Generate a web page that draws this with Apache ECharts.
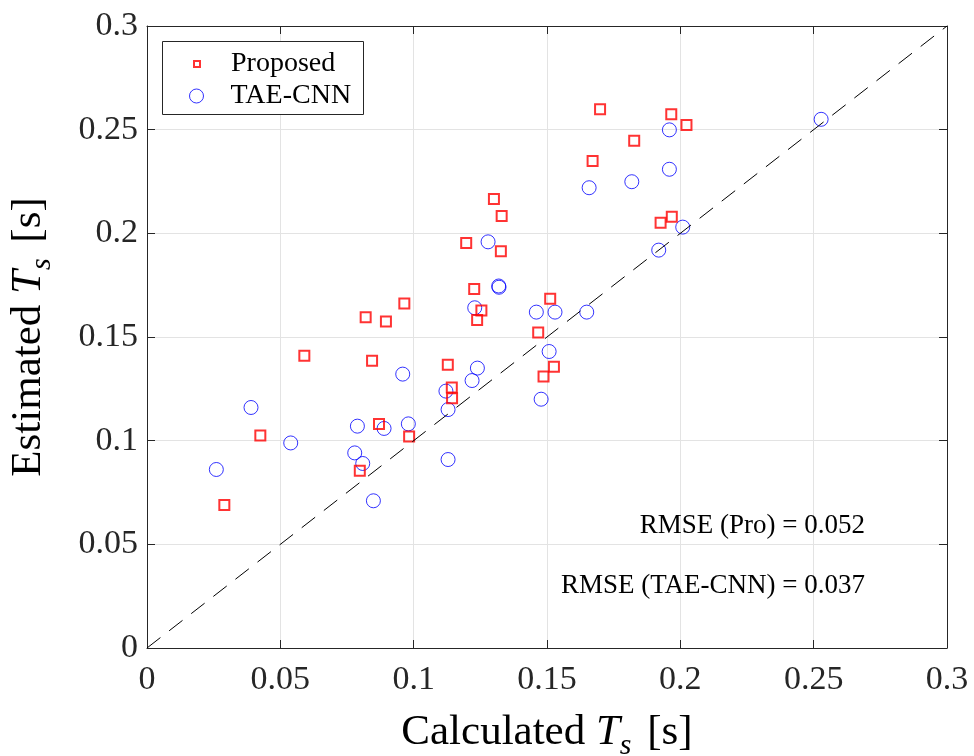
<!DOCTYPE html>
<html>
<head>
<meta charset="utf-8">
<script src="https://cdn.jsdelivr.net/npm/echarts@6/dist/echarts.min.js"></script>
<style>
  html, body { margin: 0; padding: 0; background: #ffffff; }
  #chart { width: 974px; height: 756px; }
</style>
</head>
<body>
<div id="chart"></div>
<script>
// Settling time: calculated vs. estimated, two estimators
const proposedCalc = [0.029, 0.0425, 0.059, 0.082, 0.0844, 0.0896, 0.0965, 0.087, 0.0983, 0.0798,
  0.1128, 0.1143, 0.1144, 0.1197, 0.1227, 0.1238, 0.1254, 0.1301, 0.133, 0.1327,
  0.1467, 0.1487, 0.1512, 0.1526, 0.1671, 0.1699, 0.1827, 0.1926, 0.1968, 0.1966, 0.2023];
const proposedEst = [0.069, 0.1025, 0.141, 0.1595, 0.1385, 0.1575, 0.1662, 0.108, 0.102, 0.0855,
  0.1366, 0.1257, 0.1205, 0.1953, 0.1731, 0.1582, 0.1628, 0.2166, 0.2084, 0.1913,
  0.1522, 0.131, 0.1685, 0.1356, 0.2349, 0.2598, 0.2447, 0.2051, 0.208, 0.2574, 0.2523];

const taeCalc = [0.026, 0.039, 0.0539, 0.0779, 0.0789, 0.0809, 0.0849, 0.0889, 0.0959, 0.098,
  0.1121, 0.1129, 0.1129, 0.1219, 0.1229, 0.1239, 0.1279, 0.1319, 0.132, 0.146,
  0.1478, 0.1508, 0.153, 0.1649, 0.1658, 0.1818, 0.1919, 0.1959, 0.1959, 0.2009, 0.2528];
const taeEst = [0.0861, 0.116, 0.0989, 0.0941, 0.107, 0.089, 0.071, 0.1059, 0.1321, 0.1081,
  0.1239, 0.115, 0.0909, 0.129, 0.1641, 0.135, 0.1959, 0.1746, 0.174, 0.162,
  0.12, 0.143, 0.162, 0.162, 0.222, 0.2249, 0.1919, 0.2309, 0.2499, 0.203, 0.255];

// y = x reference line end points
const identityLine = [[0, 0], [0.3, 0.3]];

const seriesNames = ['Proposed', 'TAE-CNN'];
const rmseLabels = ['RMSE (Pro) = 0.052', 'RMSE (TAE-CNN) = 0.037'];

const SERIF = '"Liberation Serif", "Times New Roman", serif';
const AXIS_COLOR = '#262626';
const GRID_COLOR = '#e3e3e3';
const PRO_COLOR = '#ff0000';
const TAE_COLOR = '#0000ff';

const pairs = (xs, ys) => xs.map((x, i) => [x, ys[i]]);

const titleRich = {
  n: { fontFamily: SERIF, fontSize: 43, color: '#000', lineHeight: 56, verticalAlign: 'middle' },
  i: { fontFamily: SERIF, fontSize: 43, fontStyle: 'italic', color: '#000', lineHeight: 56, verticalAlign: 'middle' },
  s: { fontFamily: SERIF, fontSize: 30, fontStyle: 'italic', color: '#000', lineHeight: 56, verticalAlign: 'bottom', padding: [0, 5, 0, 0] }
};

const baseAxis = {
  type: 'value',
  min: 0,
  max: 0.3,
  interval: 0.05,
  axisLine: { show: true, onZero: false, lineStyle: { color: AXIS_COLOR, width: 1 } },
  axisTick: { show: true, inside: true, length: 8, lineStyle: { color: AXIS_COLOR, width: 1 } }
};

const legendText = { fontFamily: SERIF, fontSize: 28, color: '#000' };

const chart = echarts.init(document.getElementById('chart'), null, { renderer: 'canvas' });

chart.setOption({
  backgroundColor: '#ffffff',
  animation: false,
  grid: { left: 147, right: 27, top: 26, bottom: 108, containLabel: false, outerBoundsMode: 'none' },
  xAxis: [
    Object.assign({}, baseAxis, {
      position: 'bottom',
      name: '{n|Calculated }{i|T}{s|s}{n| [s]}',
      nameLocation: 'middle',
      nameGap: 57,
      nameTextStyle: { rich: titleRich },
      axisLabel: { fontFamily: SERIF, fontSize: 34, color: AXIS_COLOR, margin: 15 },
      splitLine: { show: true, lineStyle: { color: GRID_COLOR, width: 1 } }
    }),
    Object.assign({}, baseAxis, {
      position: 'top',
      axisLabel: { show: false },
      splitLine: { show: false }
    })
  ],
  yAxis: [
    Object.assign({}, baseAxis, {
      position: 'left',
      name: '{n|Estimated }{i|T}{s|s}{n| [s]}',
      nameLocation: 'middle',
      nameGap: 90,
      nameTextStyle: { rich: titleRich },
      axisLabel: { fontFamily: SERIF, fontSize: 34, color: AXIS_COLOR, margin: 9 },
      splitLine: { show: true, lineStyle: { color: GRID_COLOR, width: 1 } }
    }),
    Object.assign({}, baseAxis, {
      position: 'right',
      axisLabel: { show: false },
      splitLine: { show: false }
    })
  ],
  legend: [
    {
      data: [{
        name: seriesNames[0],
        icon: 'rect',
        itemStyle: { color: 'rgba(0,0,0,0)', borderColor: PRO_COLOR, borderWidth: 2 }
      }],
      orient: 'vertical',
      left: 193,
      top: 50,
      padding: 0,
      itemWidth: 6,
      itemHeight: 6,
      textStyle: Object.assign({ padding: [0, 0, 0, 26] }, legendText),
      z: 6
    },
    {
      data: [{
        name: seriesNames[1],
        icon: 'circle',
        itemStyle: { color: 'rgba(0,0,0,0)', borderColor: TAE_COLOR, borderWidth: 1 }
      }],
      orient: 'vertical',
      left: 189,
      top: 82,
      padding: 0,
      itemWidth: 14,
      itemHeight: 14,
      textStyle: Object.assign({ padding: [0, 0, 0, 22] }, legendText),
      z: 6
    }
  ],
  graphic: [
    {
      type: 'rect',
      left: 162,
      top: 41,
      z: 5,
      shape: { width: 201, height: 73 },
      style: { fill: '#ffffff', stroke: AXIS_COLOR, lineWidth: 1 }
    },
    {
      type: 'text',
      right: 109,
      top: 512,
      z: 5,
      style: { text: rmseLabels[0], font: '27px "Liberation Serif"', fill: '#000' }
    },
    {
      type: 'text',
      right: 109,
      top: 572,
      z: 5,
      style: { text: rmseLabels[1], font: '27px "Liberation Serif"', fill: '#000' }
    }
  ],
  series: [
    {
      name: seriesNames[1],
      type: 'scatter',
      data: pairs(taeCalc, taeEst),
      symbol: 'circle',
      symbolSize: 14,
      itemStyle: { color: 'rgba(0,0,0,0)', borderColor: TAE_COLOR, borderWidth: 1 },
      z: 2
    },
    {
      name: seriesNames[0],
      type: 'scatter',
      data: pairs(proposedCalc, proposedEst),
      symbol: 'rect',
      symbolSize: 10,
      itemStyle: { color: 'rgba(0,0,0,0)', borderColor: PRO_COLOR, borderWidth: 2 },
      z: 3
    },
    {
      name: 'y = x',
      type: 'line',
      data: identityLine,
      symbol: 'none',
      silent: true,
      lineStyle: { color: '#000000', width: 1, type: [17, 11] },
      z: 4
    }
  ]
});
</script>
</body>
</html>
